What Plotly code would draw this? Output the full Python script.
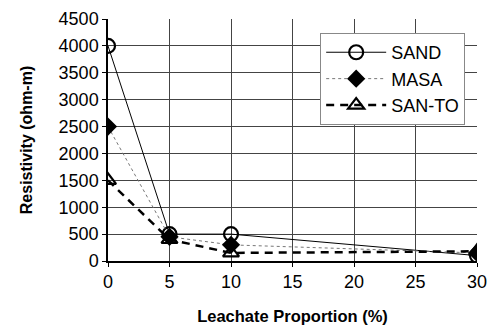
import plotly.graph_objects as go

leachate = [0, 5, 10, 30]
sand = [4000, 500, 500, 100]
masa = [2500, 450, 300, 150]
san_to = [1500, 400, 150, 180]

fig = go.Figure()
fig.add_trace(go.Scatter(
    x=leachate, y=sand, name="SAND", mode="lines+markers",
    line=dict(color="black", width=1),
    marker=dict(symbol="circle-open", size=14, color="black", line=dict(width=2.2)),
))
fig.add_trace(go.Scatter(
    x=leachate, y=masa, name="MASA", mode="lines+markers",
    line=dict(color="#777777", width=1, dash="dot"),
    marker=dict(symbol="diamond", size=14, color="black"),
))
fig.add_trace(go.Scatter(
    x=leachate, y=san_to, name="SAN-TO", mode="lines+markers",
    line=dict(color="black", width=2.5, dash="8px,6px"),
    marker=dict(symbol="triangle-up-open", size=14, color="black", line=dict(width=2.2)),
))

fig.update_layout(
    width=487, height=326,
    margin=dict(l=108, r=10, t=19, b=65),
    paper_bgcolor="white", plot_bgcolor="white",
    font=dict(family="Liberation Sans, Arial", color="black", size=18),
    showlegend=True,
    legend=dict(
        x=0.575, y=0.942, xanchor="left", yanchor="top",
        bordercolor="#888888", borderwidth=1, bgcolor="white",
        font=dict(size=18), tracegroupgap=0, itemwidth=60,
    ),
)
fig.update_xaxes(
    range=[0, 30], tickvals=[0, 5, 10, 15, 20, 25, 30],
    showgrid=True, gridcolor="#444444", gridwidth=1,
    showline=True, linecolor="black", linewidth=1.5,
    ticks="outside", ticklen=4, tickcolor="black",
    tickfont=dict(size=18), zeroline=False, automargin=False,
    ticklabeloverflow="allow",
    title=dict(text="<b>Leachate Proportion (%)</b>", font=dict(size=16.5), standoff=19),
)
fig.update_yaxes(
    range=[0, 4500], tickvals=list(range(0, 4501, 500)),
    showgrid=True, gridcolor="#444444", gridwidth=1,
    showline=True, linecolor="black", linewidth=1.5,
    ticks="outside", ticklen=4, tickcolor="black",
    tickfont=dict(size=18), zeroline=False, automargin=False,
    title=dict(text="<b>Resistivity (ohm-m)</b>", font=dict(size=16), standoff=22),
)

fig.write_html("out.html")
